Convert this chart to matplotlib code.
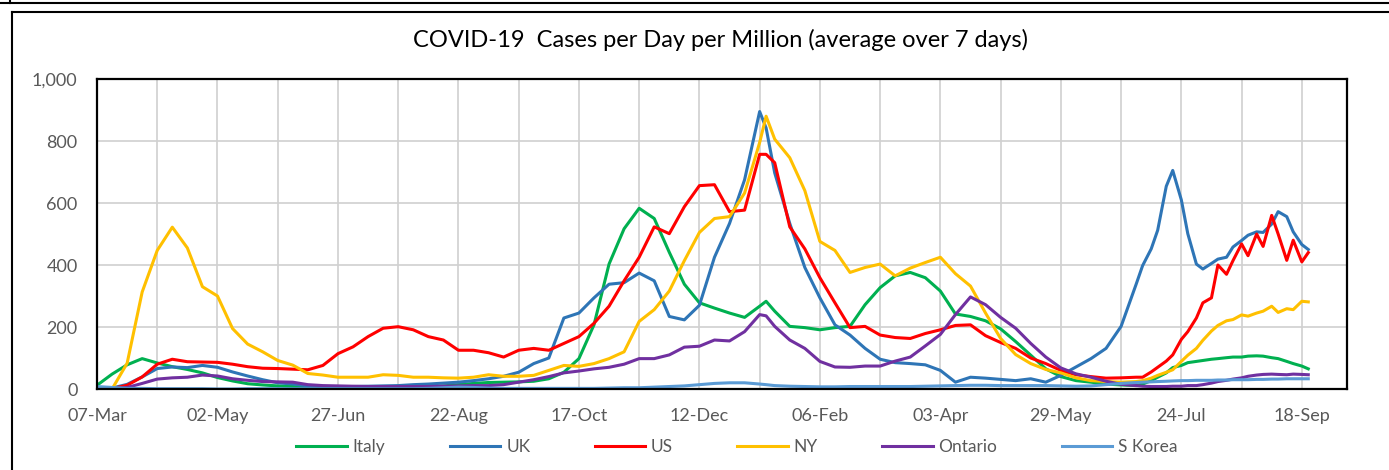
import matplotlib
matplotlib.use('Agg')
import matplotlib.pyplot as plt
from matplotlib import font_manager
from matplotlib.lines import Line2D
from matplotlib.ticker import FuncFormatter
import pandas as pd

# days since 07-Mar-2020 (weekly, plus extra points at the winter peak and the last weeks)
day = (list(range(0, 309, 7)) + [311] + list(range(315, 484, 7)) +
       [486, 490, 493, 497, 500, 504, 507, 511, 514, 518, 521, 525,
        528, 532, 535, 539, 542, 546, 549, 553, 556, 560, 563])

italy = [12, 48, 78, 98, 84, 72, 63, 52, 37, 26,
         17, 13, 10, 8, 6, 5, 4, 4, 4, 4,
         5, 6, 7, 10, 14, 18, 21, 22, 23, 25,
         33, 54, 98, 207, 403, 517, 583, 550, 441, 338,
         278, 261, 245, 231, 267, 283,
         251, 202, 198, 191, 198, 202, 272, 327, 365, 376,
         359, 316, 242, 234, 220, 194, 153, 109, 65, 40,
         27, 22, 16, 13, 11,
         16, 27, 38, 52, 69, 76, 85, 89, 92, 96, 98, 101, 103, 103, 106, 107, 106, 101, 98, 89, 82, 74, 65]

uk = [2, 3, 15, 39, 66, 71, 69, 76, 70, 55,
      42, 30, 20, 16, 10, 8, 7, 8, 9, 10,
      11, 14, 16, 19, 22, 27, 33, 41, 54, 82,
      100, 229, 245, 294, 338, 343, 374, 349, 234, 223,
      270, 425, 534, 675, 895, 842,
      697, 534, 392, 294, 207, 174, 131, 96, 85, 82,
      78, 60, 22, 38, 35, 31, 27, 33, 22, 44,
      71, 98, 131, 202, 338,
      398, 452, 512, 654, 705, 610, 501, 403, 387, 405, 419, 425, 458, 479, 496, 507, 505, 532, 572, 556, 507, 466, 450]

us = [0, 1, 12, 39, 80, 96, 88, 87, 86, 80,
      72, 67, 66, 64, 62, 76, 114, 136, 169, 196,
      201, 191, 169, 158, 125, 125, 117, 103, 125, 131,
      125, 147, 169, 212, 267, 349, 425, 523, 501, 588,
      656, 659, 572, 577, 757, 757,
      730, 523, 452, 359, 278, 198, 202, 174, 166, 163,
      179, 191, 205, 207, 172, 150, 131, 100, 82, 60,
      46, 40, 35, 36, 38,
      38, 55, 70, 90, 110, 160, 185, 229, 278, 294, 400, 370, 414, 468, 430, 500, 460, 560, 500, 415, 480, 410, 440]

ny = [0, 0, 83, 313, 447, 522, 455, 330, 300, 195,
      145, 120, 92, 77, 50, 45, 38, 38, 38, 46,
      44, 38, 38, 36, 35, 38, 46, 41, 41, 44,
      60, 76, 73, 82, 98, 120, 218, 256, 316, 414,
      505, 550, 556, 632, 795, 880,
      806, 746, 640, 476, 447, 376, 392, 403, 365, 390,
      408, 425, 372, 332, 245, 163, 111, 82, 63, 52,
      36, 27, 24, 22, 24,
      27, 35, 44, 54, 62, 89, 109, 131, 157, 187, 205, 220, 224, 239, 235, 245, 251, 267, 247, 259, 256, 283, 281]

ontario = [0, 1, 5, 18, 32, 36, 38, 45, 42, 33,
           28, 24, 23, 22, 14, 11, 10, 9, 8, 8,
           8, 8, 8, 9, 10, 11, 11, 14, 22, 30,
           40, 52, 58, 65, 70, 80, 98, 98, 110, 135,
           138, 158, 155, 185, 240, 236,
           202, 158, 131, 89, 71, 70, 74, 74, 90, 103,
           139, 176, 240, 297, 272, 231, 196, 147, 103, 68,
           49, 38, 25, 15, 11,
           9, 8, 8, 8, 9, 9, 11, 11, 14, 19, 24, 28, 32, 36, 41, 45, 47, 48, 47, 46, 48, 47, 46]

skorea = [8, 5, 2, 2, 1, 1, 1, 1, 0, 0,
          1, 1, 1, 1, 1, 1, 1, 1, 1, 1,
          1, 1, 2, 4, 6, 5, 3, 2, 2, 2,
          2, 2, 2, 2, 3, 4, 4, 6, 8, 10,
          14, 18, 20, 20, 16, 14,
          11, 9, 8, 7, 7, 8, 8, 8, 8, 8,
          9, 10, 11, 12, 12, 11, 11, 11, 11, 10,
          9, 10, 14, 18, 21,
          22, 23, 24, 25, 26, 27, 27, 28, 28, 28, 29, 29, 30, 30, 30, 31, 31, 32, 32, 33, 33, 33, 33]

names = ['Italy', 'UK', 'US', 'NY', 'Ontario', 'S Korea']
colors = ['#00B050', '#2E75B6', '#FF0000', '#FFC000', '#7030A0', '#5B9BD5']
series = [italy, uk, us, ny, ontario, skorea]

# Lato is the closest thing to Calibri that is installed
installed = {f.name for f in font_manager.fontManager.ttflist}
for fam in ['Lato', 'Open Sans', 'DejaVu Sans']:
    if fam in installed:
        plt.rcParams['font.family'] = fam
        break

grey = '#595959'
start = pd.Timestamp('2020-03-07')
dates = start + pd.to_timedelta(day, unit='D')

fig = plt.figure(figsize=(13.89, 4.70), dpi=100)
ax = fig.add_axes([97 / 1389, 81 / 470, 1250 / 1389, 310 / 470])

for name, vals, col in zip(names, series, colors):
    ax.plot(dates, vals, color=col, lw=2.2, label=name, solid_joinstyle='round')

# axes / grid
ax.set_ylim(0, 1000)
ax.set_yticks(range(0, 1001, 200))
ax.yaxis.set_major_formatter(FuncFormatter(lambda v, p: f'{v:,.0f}'))
ticks = pd.date_range(start, periods=21, freq='28D')
ax.set_xticks(ticks)
ax.set_xticklabels([t.strftime('%d-%b') if i % 2 == 0 else '' for i, t in enumerate(ticks)])
ax.set_xlim(start, start + pd.Timedelta(days=581))
ax.grid(True, color='#D0D0D0', lw=1.2)
ax.set_axisbelow(True)
ax.tick_params(length=0, labelsize=13, colors=grey)
ax.tick_params(axis='x', pad=14)
ax.tick_params(axis='y', pad=14)
for s in ax.spines.values():
    s.set_color('black')
    s.set_linewidth(1.6)

fig.text(720 / 1389, 1 - 40 / 470, 'COVID-19  Cases per Day per Million (average over 7 days)',
         ha='center', va='center', fontsize=17, color='black')

fig.legend(loc='center', bbox_to_anchor=(737 / 1389, 1 - 447 / 470), ncol=6, frameon=False,
           fontsize=12.5, labelcolor=grey, handlelength=2.9, handletextpad=0.35,
           columnspacing=3.7)

# chart frame lines
fig.add_artist(Line2D([0, 1], [1 - 3 / 470] * 2, transform=fig.transFigure, color='black', lw=1.5))
fig.add_artist(Line2D([10 / 1389] * 2, [1, 1 - 3 / 470], transform=fig.transFigure, color='black', lw=1.5))
fig.add_artist(Line2D([12 / 1389, 1], [1 - 12 / 470] * 2, transform=fig.transFigure, color='black', lw=1.5))
fig.add_artist(Line2D([12 / 1389] * 2, [0, 1 - 12 / 470], transform=fig.transFigure, color='black', lw=1.5))

fig.savefig('out.png', dpi=100)
